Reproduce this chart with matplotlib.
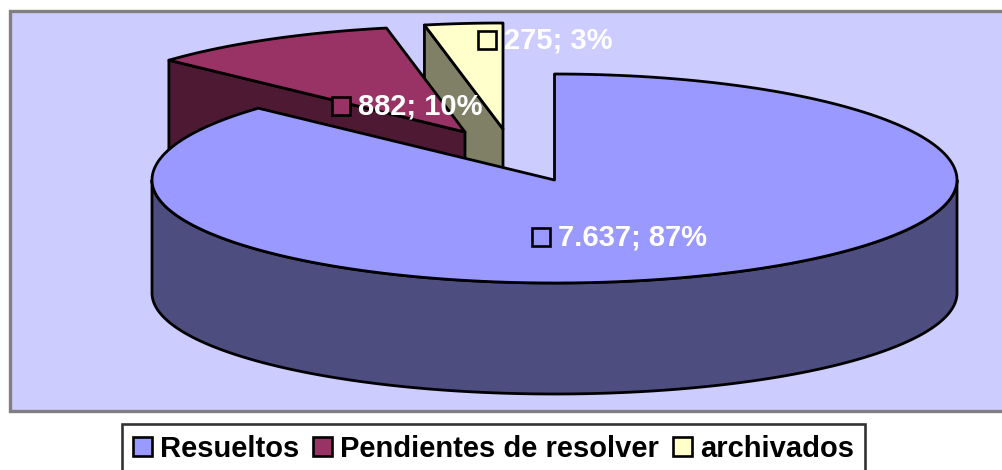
import numpy as np
import matplotlib
matplotlib.use("Agg")
import matplotlib.pyplot as plt
from matplotlib.patches import Polygon, Rectangle, Patch

categories = ["Resueltos", "Pendientes de resolver", "archivados"]
values = [7637, 882, 275]
point_labels = ["7.637; 87%", "882; 10%", "275; 3%"]

top_colors = ["#9999FF", "#993366", "#FFFFCC"]
side_colors = ["#4D4D80", "#4D1933", "#808066"]
centers = [(554.5, 180), (465, 132), (503, 129)]
label_pos = [(541, 237), (341, 106), (487, 40)]
RX, RY_BACK, RY_FRONT, RY_BASE, DEPTH = 402.5, 106, 103, 101, 113

W, H = 1003, 470
plt.rcParams["font.family"] = ["Liberation Sans", "DejaVu Sans"]
fig = plt.figure(figsize=(W / 100, H / 100), dpi=100, facecolor="white")
ax = fig.add_axes([0, 0, 1, 1])
ax.set_xlim(0, W)
ax.set_ylim(H, 0)
ax.axis("off")

ax.add_patch(Rectangle((10, 10.5), W, 400, fc="#CCCCFF", ec="#808080", lw=2.4, zorder=0))


def arc(c, a0, a1, n=200, front=None, dy=0):
    t = np.radians(np.linspace(a0, a1, n))
    front = RY_FRONT if front is None else front
    ry = np.where(np.cos(t) > 0, RY_BACK, front)
    return np.column_stack([c[0] + RX * np.sin(t), c[1] - ry * np.cos(t) + dy])


shares = np.array(values, dtype=float) / sum(values)
edges = np.concatenate([[0], np.cumsum(shares) * 360])
EDGE = dict(ec="black", lw=2.0, joinstyle="round")

# painter's order: back slices first, main slice last
for z, i in zip([2, 3, 4], [2, 1, 0]):
    c, a0, a1 = centers[i], edges[i], edges[i + 1]
    if i == 0:
        lo, hi = 90, 270
        top = arc(c, lo, hi)
        bottom = arc(c, hi, lo, front=RY_BASE, dy=DEPTH)
        ax.add_patch(Polygon(np.vstack([top, bottom]), closed=True,
                             fc=side_colors[i], zorder=z, **EDGE))
    else:
        p = arc(c, a0, a0, n=1)[0]
        face = [p, c, (c[0], c[1] + DEPTH), (p[0], p[1] + DEPTH)]
        ax.add_patch(Polygon(face, closed=True, fc=side_colors[i], zorder=z, **EDGE))
    wedge = np.vstack([[c], arc(c, a0, a1)])
    ax.add_patch(Polygon(wedge, closed=True, fc=top_colors[i], zorder=z, **EDGE))

for i, (x, y) in enumerate(label_pos):
    ax.add_patch(Rectangle((x - 9, y - 9), 18, 18, fc=top_colors[i], ec="black",
                           lw=1.9, zorder=6))
    ax.text(x + 17, y + 0.5, point_labels[i], color="white", fontsize=21, fontweight="bold",
            ha="left", va="center", zorder=7)

handles = [Patch(fc=col, ec="black", lw=1.9) for col in top_colors]
leg = fig.legend(handles, categories, ncol=3, loc="upper left",
                 bbox_to_anchor=(122 / W, 1 - 424 / H),
                 prop=dict(size=21, weight="bold"),
                 frameon=True, fancybox=False, edgecolor="black", facecolor="white",
                 handlelength=0.65, handleheight=0.65, handletextpad=0.27,
                 columnspacing=0.49, borderpad=0.37, borderaxespad=0)
leg.get_frame().set_linewidth(1.9)

fig.savefig("out.png", dpi=100)
